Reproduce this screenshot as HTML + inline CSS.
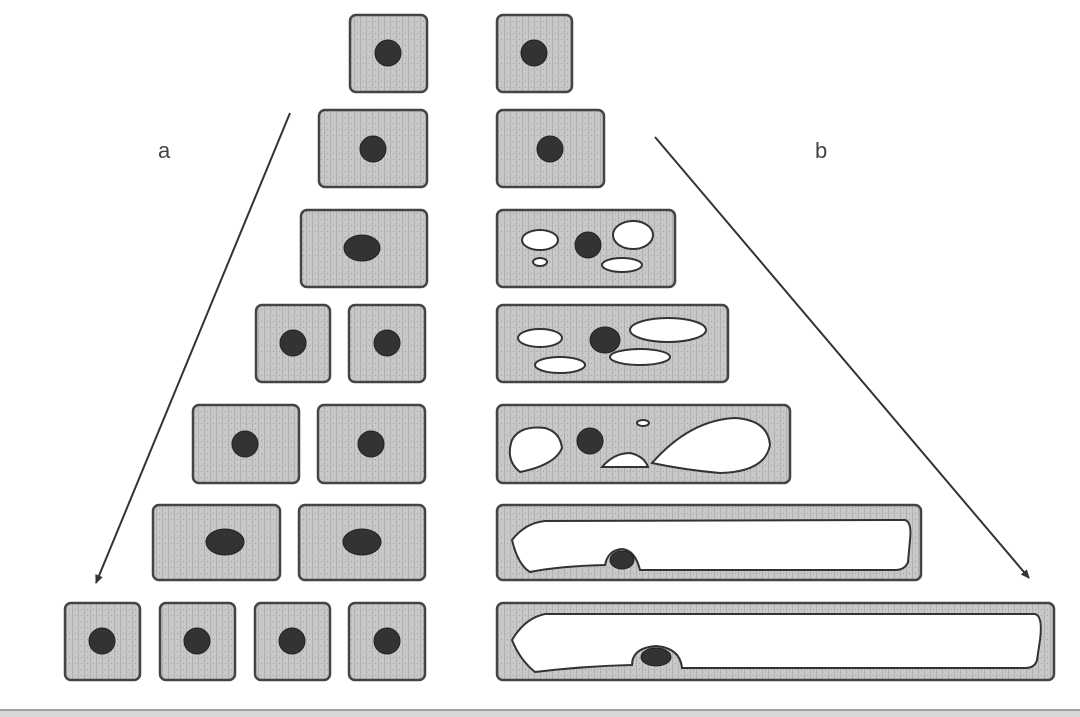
<!DOCTYPE html>
<html><head><meta charset="utf-8"><style>
html,body{margin:0;padding:0;background:#fff;}
svg{display:block}
</style></head><body>
<svg width="1080" height="717" viewBox="0 0 1080 717" xmlns="http://www.w3.org/2000/svg">
<defs>
<pattern id="p" width="6" height="6" patternUnits="userSpaceOnUse">
<rect width="6" height="6" fill="#c8c8c8"/>
<rect x="0" y="0" width="1" height="6" fill="#b0b0b0"/>
<rect x="3" y="3" width="1" height="1" fill="#a0a0a0"/>
</pattern>
<marker id="ah" markerWidth="10" markerHeight="10" refX="8" refY="5" orient="auto" markerUnits="userSpaceOnUse">
<path d="M0,1 L9,5 L0,9 z" fill="#333"/>
</marker>
</defs>
<g stroke="#444" stroke-width="2.5" fill="url(#p)">
<rect x="350" y="15" width="77" height="77" rx="6"/>
<rect x="497" y="15" width="75" height="77" rx="6"/>
<rect x="319" y="110" width="108" height="77" rx="6"/>
<rect x="497" y="110" width="107" height="77" rx="6"/>
<rect x="301" y="210" width="126" height="77" rx="6"/>
<rect x="497" y="210" width="178" height="77" rx="6"/>
<rect x="256" y="305" width="74" height="77" rx="6"/>
<rect x="349" y="305" width="76" height="77" rx="6"/>
<rect x="497" y="305" width="231" height="77" rx="6"/>
<rect x="193" y="405" width="106" height="78" rx="6"/>
<rect x="318" y="405" width="107" height="78" rx="6"/>
<rect x="497" y="405" width="293" height="78" rx="6"/>
<rect x="153" y="505" width="127" height="75" rx="6"/>
<rect x="299" y="505" width="126" height="75" rx="6"/>
<rect x="497" y="505" width="424" height="75" rx="6"/>
<rect x="65" y="603" width="75" height="77" rx="6"/>
<rect x="160" y="603" width="75" height="77" rx="6"/>
<rect x="255" y="603" width="75" height="77" rx="6"/>
<rect x="349" y="603" width="76" height="77" rx="6"/>
<rect x="497" y="603" width="557" height="77" rx="6"/>
</g>
<g fill="#fff" stroke="#333" stroke-width="2">
<ellipse cx="540" cy="240" rx="18" ry="10"/>
<ellipse cx="540" cy="262" rx="7" ry="4"/>
<ellipse cx="633" cy="235" rx="20" ry="14"/>
<ellipse cx="622" cy="265" rx="20" ry="7"/>
<ellipse cx="540" cy="338" rx="22" ry="9"/>
<ellipse cx="560" cy="365" rx="25" ry="8"/>
<ellipse cx="668" cy="330" rx="38" ry="12"/>
<ellipse cx="640" cy="357" rx="30" ry="8"/>
<path d="M512,440 Q520,425 545,428 Q560,432 562,448 Q555,465 520,472 Q505,460 512,440 z"/>
<ellipse cx="643" cy="423" rx="6" ry="3"/>
<path d="M602,467 Q614,453 630,453 Q644,456 648,467 z"/>
<path d="M652,463 Q690,420 735,418 Q768,420 770,445 Q765,472 720,473 Q685,470 652,463 z"/>
<path d="M512,540 Q525,523 545,521 L905,520 Q912,522 910,540 L908,562 Q905,570 895,570 L640,570 Q635,550 622,549 Q608,550 605,565 Q560,566 530,572 Q518,565 512,540 z"/>
<path d="M512,640 Q525,618 545,614 L1035,614 Q1043,616 1040,640 L1037,660 Q1035,668 1025,668 L682,668 Q680,648 656,646 Q632,648 632,665 Q585,666 535,672 Q520,660 512,640 z"/>
</g>
<g fill="#333" stroke="#222" stroke-width="1">
<circle cx="388" cy="53" r="13"/>
<circle cx="534" cy="53" r="13"/>
<circle cx="373" cy="149" r="13"/>
<circle cx="550" cy="149" r="13"/>
<ellipse cx="362" cy="248" rx="18" ry="13"/>
<circle cx="588" cy="245" r="13"/>
<circle cx="293" cy="343" r="13"/>
<circle cx="387" cy="343" r="13"/>
<ellipse cx="605" cy="340" rx="15" ry="13"/>
<circle cx="245" cy="444" r="13"/>
<circle cx="371" cy="444" r="13"/>
<circle cx="590" cy="441" r="13"/>
<ellipse cx="225" cy="542" rx="19" ry="13"/>
<ellipse cx="362" cy="542" rx="19" ry="13"/>
<ellipse cx="622" cy="560" rx="12" ry="9"/>
<circle cx="102" cy="641" r="13"/>
<circle cx="197" cy="641" r="13"/>
<circle cx="292" cy="641" r="13"/>
<circle cx="387" cy="641" r="13"/>
<ellipse cx="656" cy="657" rx="15" ry="9"/>
</g>
<line x1="290" y1="113" x2="96" y2="583" stroke="#333" stroke-width="2" marker-end="url(#ah)"/>
<line x1="655" y1="137" x2="1029" y2="578" stroke="#333" stroke-width="2" marker-end="url(#ah)"/>
<text x="158" y="158" font-family="Liberation Sans, sans-serif" font-size="22" fill="#444">a</text>
<text x="815" y="158" font-family="Liberation Sans, sans-serif" font-size="22" fill="#444">b</text>
<rect x="0" y="710" width="1080" height="7" fill="#d8d8d8"/>
<line x1="0" y1="710" x2="1080" y2="710" stroke="#888" stroke-width="1.5"/>
</svg>
</body></html>
